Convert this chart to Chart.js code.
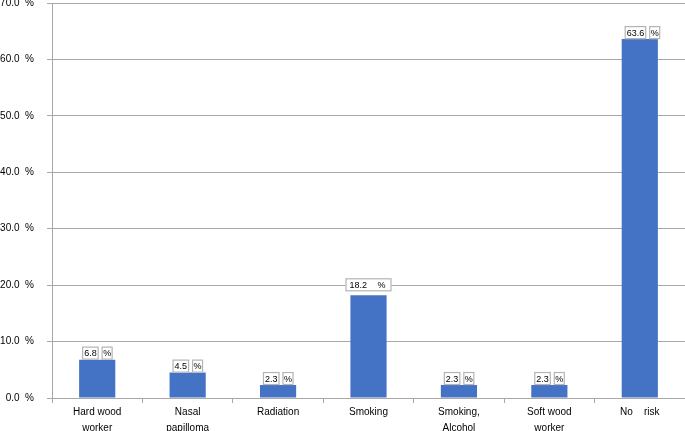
<!DOCTYPE html>
<html>
<head>
<meta charset="utf-8">
<script src="https://cdn.jsdelivr.net/npm/chart.js@4"></script>
<style>
  html, body { margin: 0; padding: 0; background: #fff; }
  #wrap { width: 685px; height: 431px; }
</style>
</head>
<body>
<div id="wrap"><canvas id="chart"></canvas></div>
<script>
// risk factor categories (two-line labels as in the source)
const categories = [
  ['Hard wood', 'worker'],
  ['Nasal', 'papilloma'],
  ['Radiation'],
  ['Smoking'],
  ['Smoking,', 'Alcohol'],
  ['Soft wood', 'worker'],
  ['No    risk']
];
const percentValues = [6.8, 4.5, 2.3, 18.2, 2.3, 2.3, 63.6];
const yTicks = [0, 10, 20, 30, 40, 50, 60, 70];

const GRID = '#a8a8a8';
const FONT = '"Liberation Sans", Arial, sans-serif';

// value labels: number box + "%" box, the 18.2 one is drawn as a single wider box
const valueLabels = {
  id: 'valueLabels',
  afterDatasetsDraw(chart) {
    const ctx = chart.ctx;
    const meta = chart.getDatasetMeta(0);
    ctx.save();
    ctx.font = '9px ' + FONT;
    ctx.textBaseline = 'middle';
    ctx.lineWidth = 1.2;
    const h = 13;
    meta.data.forEach((bar, i) => {
      const v = percentValues[i].toFixed(1);
      const left = bar.x - bar.width / 2;
      const box = (x, y, w, text, tx) => {
        ctx.fillStyle = '#fff';
        ctx.fillRect(x, y, w, h);
        ctx.strokeStyle = '#b4b4b4';
        ctx.strokeRect(x + 0.5, y + 0.5, w - 1, h - 1);
        ctx.fillStyle = '#000';
        ctx.textAlign = 'left';
        ctx.fillText(text, tx, y + h / 2 + 0.5);
      };
      if (i === 3) {
        const y = bar.y - h - 4;
        const w = 46;
        const x = bar.x - w / 2;
        box(x, y, w, v, x + 4);
        ctx.fillText('%', x + 32, y + h / 2 + 0.5);
      } else {
        const y = bar.y - h;
        const nw = ctx.measureText(v).width + 4;
        const nx = left + 3;
        box(nx, y, nw, v, nx + 2);
        const px = nx + nw + 3;
        const pw = ctx.measureText('%').width + 3;
        box(px, y, pw, '%', px + 1.5);
      }
    });
    ctx.restore();
  }
};

new Chart(document.getElementById('chart'), {
  type: 'bar',
  data: {
    labels: categories,
    datasets: [{
      data: percentValues,
      backgroundColor: '#4472c4',
      borderWidth: 0,
      categoryPercentage: 0.8,
      barPercentage: 0.5
    }]
  },
  options: {
    responsive: true,
    maintainAspectRatio: false,
    animation: false,
    layout: { padding: 0 },
    plugins: { legend: { display: false }, tooltip: { enabled: false } },
    scales: {
      x: {
        grid: { drawOnChartArea: false, color: GRID, tickLength: 5, offset: true },
        border: { color: GRID },
        ticks: { color: '#000', padding: 1, maxRotation: 0, autoSkip: false, font: { family: FONT, size: 10, lineHeight: 1.6 } },
        afterFit(s) { s.height = 33; s.paddingLeft = 0; s.paddingRight = 0; }
      },
      y: {
        min: 0,
        max: 70,
        afterBuildTicks(s) { s.ticks = yTicks.map((v) => ({ value: v })); },
        grid: { color: GRID, tickLength: 5 },
        border: { color: GRID },
        ticks: {
          color: '#000',
          padding: 13,
          font: { family: FONT, size: 10 },
          callback: (v) => Number(v).toFixed(1) + '  %'
        },
        afterFit(s) { s.width = 52; s.paddingTop = 3; s.paddingBottom = 0; }
      }
    }
  },
  plugins: [valueLabels]
});
</script>
</body>
</html>
